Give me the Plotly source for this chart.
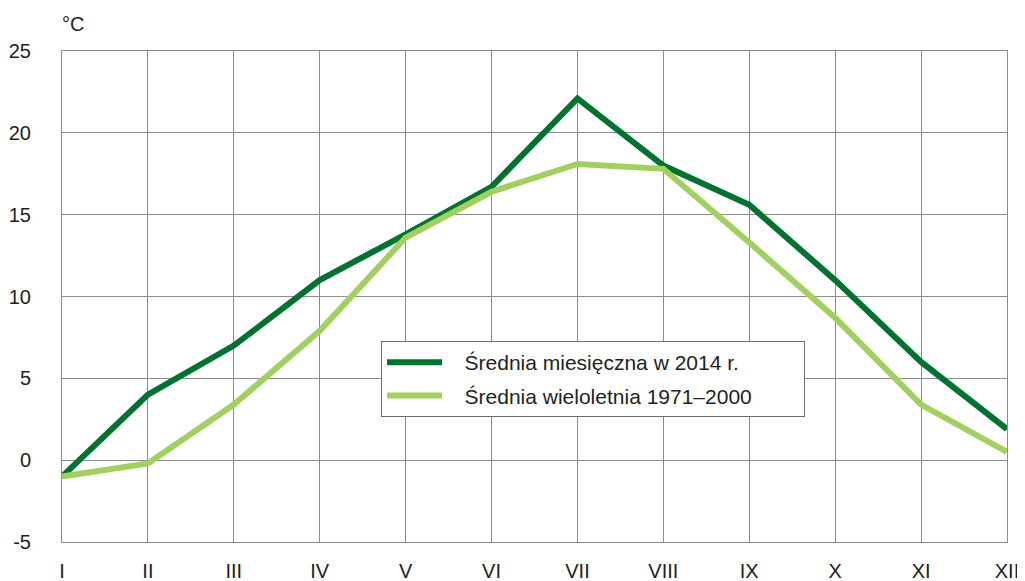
import plotly.graph_objects as go

months = ["I", "II", "III", "IV", "V", "VI", "VII", "VIII", "IX", "X", "XI", "XII"]
avg_2014 = [-1.0, 4.0, 7.0, 11.0, 13.8, 16.7, 22.1, 18.0, 15.6, 11.0, 6.0, 1.9]
avg_1971_2000 = [-1.0, -0.2, 3.4, 7.9, 13.6, 16.4, 18.1, 17.8, 13.3, 8.7, 3.4, 0.5]
y_ticks = [-5, 0, 5, 10, 15, 20, 25]
y_tick_labels = ["-5", "0", "5", "10", "15", "20", "25"]
names = ["Średnia miesięczna w 2014 r.", "Średnia wieloletnia 1971–2000"]

x = list(range(len(months)))
NB = "\u00a0"

fig = go.Figure()
fig.add_trace(go.Scatter(x=x, y=avg_2014, mode="lines", name=NB * 3 + names[0],
                         line=dict(color="#00722f", width=6), legendgroup="a"))
fig.add_trace(go.Scatter(x=x, y=avg_1971_2000, mode="lines", name=NB * 3 + names[1] + NB * 8,
                         line=dict(color="#a2d060", width=6), legendgroup="b"))

# page body has an 8px default margin, so margins compensate for it
fig.update_layout(
    width=1025, height=581,
    margin=dict(l=54, r=26, t=43, b=47),
    plot_bgcolor="white", paper_bgcolor="white",
    font=dict(family="Liberation Sans, Arial, sans-serif", size=20, color="#231f20"),
    showlegend=True,
    legend=dict(x=0.3376, y=0.4094, xanchor="left", yanchor="top",
                bgcolor="white", bordercolor="#6d6d6d", borderwidth=1,
                font=dict(size=21, color="#231f20"), tracegroupgap=3,
                itemwidth=55),
    xaxis=dict(range=[0, 11], tickvals=x, ticktext=months, showgrid=True,
               gridcolor="#8c8c8c", gridwidth=1, showline=True, linecolor="#8c8c8c",
               mirror=True, zeroline=False, ticks="", ticklabelstandoff=11,
               automargin=False, tickfont=dict(size=20)),
    yaxis=dict(range=[-5, 25], tickvals=y_ticks, ticktext=y_tick_labels, showgrid=True,
               gridcolor="#8c8c8c", gridwidth=1, showline=True, linecolor="#8c8c8c",
               mirror=True, zeroline=False, ticks="", ticklabelstandoff=26,
               automargin=False, tickfont=dict(size=20)),
    annotations=[dict(text="°C", xref="paper", yref="paper", x=0, y=1, xshift=-2, yshift=14,
                      xanchor="left", yanchor="bottom", showarrow=False,
                      font=dict(size=20, color="#231f20"))],
)

fig.write_html("out.html")
